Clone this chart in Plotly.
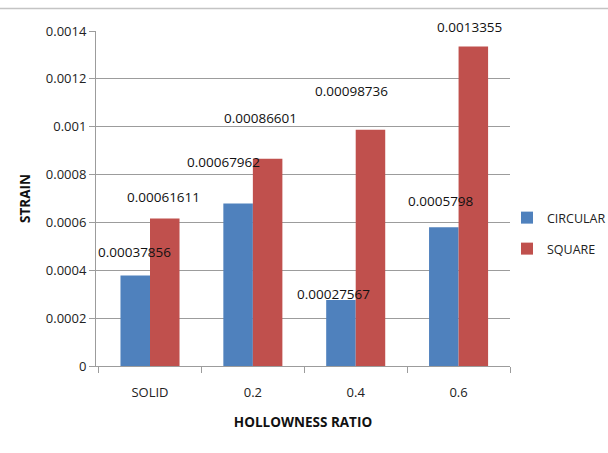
import plotly.graph_objects as go

# Strain under load for solid and hollow sections
categories = ["SOLID", "0.2", "0.4", "0.6"]
circular = [0.00037856, 0.00067962, 0.00027567, 0.0005798]
square = [0.00061611, 0.00086601, 0.00098736, 0.0013355]
y_ticks = [0, 0.0002, 0.0004, 0.0006, 0.0008, 0.001, 0.0012, 0.0014]
y_tick_text = ["0", "0.0002", "0.0004", "0.0006", "0.0008", "0.001", "0.0012", "0.0014"]

# Pixel offsets of the value labels relative to their category centre / bar top
circ_dx = [-15.5, -29.8, -22.5, -18]
circ_dy = [23, 41, 6, 26]
sq_dx = [13, 8, -4, 11]
sq_dy = [22, 41, 39, 19]

BLUE = "#4F81BD"
RED = "#C0504D"
FONT = "Open Sans"
GRID = "#9c9c9c"

fig = go.Figure()
fig.add_trace(go.Bar(x=categories, y=circular, name="CIRCULAR", showlegend=True,
                     marker=dict(color=BLUE, line=dict(width=0)), legend="legend"))
fig.add_trace(go.Bar(x=categories, y=square, name="SQUARE", showlegend=True,
                     marker=dict(color=RED, line=dict(width=0)), legend="legend2"))

annotations = []
for series, dxs, dys in ((circular, circ_dx, circ_dy), (square, sq_dx, sq_dy)):
    for i, (v, dx, dy) in enumerate(zip(series, dxs, dys)):
        annotations.append(dict(x=i, y=v, xref="x", yref="y", text=f"{v:.8g}",
                                showarrow=False, xshift=dx, yshift=dy,
                                xanchor="center", yanchor="middle",
                                font=dict(family=FONT, size=13.5, color="#111")))

legend_style = dict(xref="container", yref="container", xanchor="left", yanchor="middle",
                    font=dict(family=FONT, size=12.5, color="#222"),
                    bgcolor="rgba(0,0,0,0)", borderwidth=0)

fig.update_layout(
    width=608, height=453,
    margin=dict(l=96, r=98, t=30.5, b=86.5, autoexpand=False),
    paper_bgcolor="white", plot_bgcolor="white",
    font=dict(family=FONT, size=13, color="#222"),
    barmode="group", bargap=0.426, bargroupgap=0,
    showlegend=True,
    annotations=annotations,
    legend=dict(x=507 / 608, y=1 - 218 / 453, **legend_style),
    legend2=dict(x=507 / 608, y=1 - 249 / 453, **legend_style),
    shapes=[dict(type="line", xref="paper", yref="paper",
                 x0=-0.232, x1=1.237, y0=1.067, y1=1.067,
                 line=dict(color="#c4c4c4", width=1.5))],
)

fig.update_xaxes(
    type="category", automargin=False, showline=True, linecolor=GRID, linewidth=1,
    ticks="outside", tickson="boundaries", ticklen=6, tickcolor=GRID,
    ticklabelstandoff=14, showgrid=False,
    tickfont=dict(family=FONT, size=13, color="#222"),
    title=dict(text="<b>HOLLOWNESS RATIO</b>", standoff=17,
               font=dict(family=FONT, size=13.5, color="#111")),
)
fig.update_yaxes(
    range=[0, 0.0014], tickvals=y_ticks, ticktext=y_tick_text, automargin=False,
    showline=True, linecolor=GRID, linewidth=1,
    ticks="outside", ticklen=6, tickcolor=GRID,
    showgrid=True, gridcolor=GRID, gridwidth=1, zeroline=False,
    tickfont=dict(family=FONT, size=13, color="#222"),
    title=dict(text="<b>STRAIN</b>", standoff=12,
               font=dict(family=FONT, size=13.5, color="#111")),
)

fig.write_html("out.html")
